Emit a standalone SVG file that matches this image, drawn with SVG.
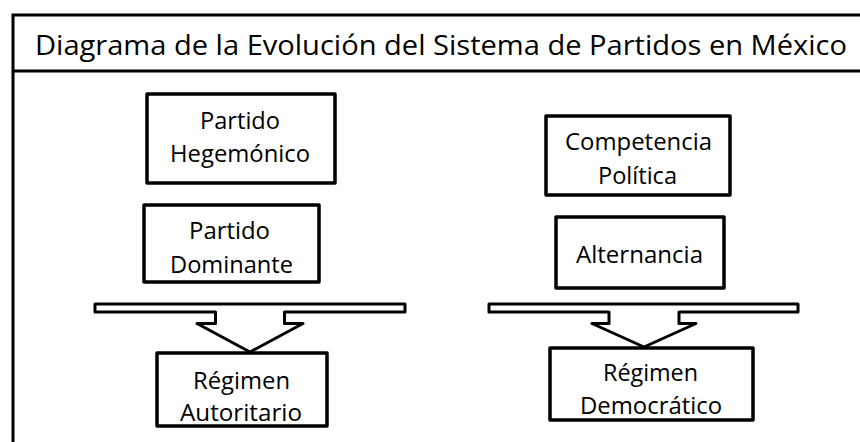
<svg xmlns="http://www.w3.org/2000/svg" width="860" height="442" viewBox="0 0 860 442">
<style>
.frame{fill:none;stroke:#000;stroke-width:3}
.box{fill:#fff;stroke:#000;stroke-width:3.5;stroke-linejoin:round}
.bar{fill:#fff;stroke:#000;stroke-width:3;stroke-linejoin:round}
text{font-family:"Open Sans","Noto Sans",sans-serif;font-size:24px;fill:#000;text-anchor:middle}
.title{text-anchor:start;font-size:28px}
</style>
<rect width="860" height="442" fill="#fff"/>
<g id="frame">
<path class="frame" d="M13,450 V15 H870"/>
<line class="frame" x1="13" y1="71" x2="870" y2="71"/>
<text class="title" x="35" y="55" textLength="812" lengthAdjust="spacingAndGlyphs">Diagrama de la Evolución del Sistema de Partidos en México</text>
</g>
<g id="connectors">
<path class="bar" d="M95,304 H405 V312 H284.5 V323.5 H303 L250,352 L197,323.5 H215.5 V312 H95 Z"/>
<path class="bar" d="M489,304 H798 V312 H679 V323.5 H696 L644,347 L592,323.5 H609 V312 H489 Z"/>
</g>
<g id="n-hegemonico">
<rect class="box" x="147" y="94" width="188" height="89"/>
<text x="240" y="129" textLength="80" lengthAdjust="spacingAndGlyphs">Partido</text>
<text x="240" y="162" textLength="140" lengthAdjust="spacingAndGlyphs">Hegemónico</text>
</g>
<g id="n-dominante">
<rect class="box" x="144" y="205" width="175" height="77"/>
<text x="229.5" y="239" textLength="81" lengthAdjust="spacingAndGlyphs">Partido</text>
<text x="231.5" y="273" textLength="123" lengthAdjust="spacingAndGlyphs">Dominante</text>
</g>
<g id="n-competencia">
<rect class="box" x="546" y="116" width="184" height="79"/>
<text x="638.5" y="150" textLength="147" lengthAdjust="spacingAndGlyphs">Competencia</text>
<text x="637.5" y="184" textLength="79" lengthAdjust="spacingAndGlyphs">Política</text>
</g>
<g id="n-alternancia">
<rect class="box" x="556" y="217" width="168" height="71"/>
<text x="639.5" y="263" textLength="127" lengthAdjust="spacingAndGlyphs">Alternancia</text>
</g>
<g id="n-autoritario">
<rect class="box" x="157" y="353" width="170" height="73"/>
<text x="241.5" y="389" textLength="97" lengthAdjust="spacingAndGlyphs">Régimen</text>
<text x="241" y="421" textLength="122" lengthAdjust="spacingAndGlyphs">Autoritario</text>
</g>
<g id="n-democratico">
<rect class="box" x="550" y="348" width="203" height="72"/>
<text x="650.5" y="381" textLength="95" lengthAdjust="spacingAndGlyphs">Régimen</text>
<text x="651" y="414" textLength="142" lengthAdjust="spacingAndGlyphs">Democrático</text>
</g>
</svg>
